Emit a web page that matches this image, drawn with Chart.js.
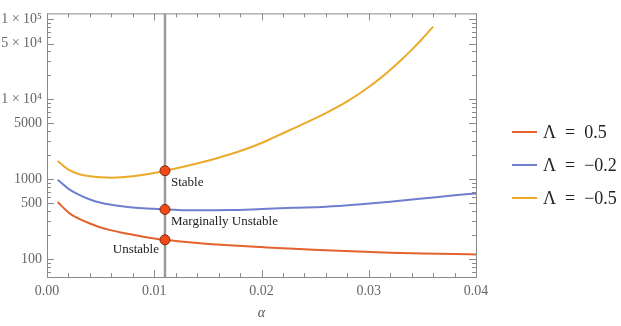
<!DOCTYPE html>
<html>
<head>
<meta charset="utf-8">
<script src="https://cdn.jsdelivr.net/npm/chart.js@4.4.1/dist/chart.umd.min.js"></script>
<style>
  html, body { margin: 0; padding: 0; background: #fff; }
  #wrap { width: 621px; height: 326px; }
</style>
</head>
<body>
<div id="wrap"><canvas id="chart"></canvas></div>
<script>
// valores
const alphaLow = [0.001, 0.002, 0.003, 0.004, 0.005, 0.006, 0.007, 0.008, 0.010, 0.011, 0.014, 0.017, 0.020, 0.023, 0.026, 0.029, 0.032, 0.035, 0.038, 0.040];
const lambda05 = [520, 385, 320, 280, 250, 230, 215, 203, 182, 175, 160, 150, 142, 135, 130, 125, 121, 118, 116, 115];
const lambdaM02 = [990, 760, 640, 560, 510, 480, 460, 445, 428, 420, 410, 412, 425, 440, 455, 485, 525, 575, 630, 665];

const alphaHigh = [0.001, 0.002, 0.003, 0.004, 0.005, 0.006, 0.007, 0.008, 0.009, 0.010, 0.011, 0.012,
  0.013, 0.014, 0.015, 0.016, 0.017, 0.018, 0.019, 0.020, 0.021, 0.022, 0.023, 0.024, 0.025, 0.026,
  0.027, 0.028, 0.029, 0.030, 0.031, 0.032, 0.033, 0.034, 0.035, 0.036];
const lambdaM05 = [1700, 1320, 1160, 1090, 1060, 1050, 1060, 1090, 1140, 1200, 1280, 1367,
  1466, 1579, 1710, 1864, 2045, 2260, 2523, 2845, 3272, 3767, 4342, 5009, 5797, 6750,
  7933, 9460, 11500, 14260, 18060, 23380, 30820, 41600, 57300, 81300];

const markerAlpha = 0.011;
const markerValues = [1280, 420, 175];
const markerLabels = ['Stable', 'Marginally Unstable', 'Unstable'];

const seriesNames = ['\u039B\u2002=\u20020.5', '\u039B\u2002=\u2002\u22120.2', '\u039B\u2002=\u2002\u22120.5'];

const xTicks = [];
for (let i = 0; i <= 20; i++) xTicks.push(+(i * 0.002).toFixed(3));
const yMajor = [100, 500, 1000, 5000, 10000, 50000, 100000];
const yMinor = [60, 70, 80, 90, 200, 300, 400, 600, 700, 800, 900, 2000, 3000, 4000, 6000, 7000, 8000, 9000,
  20000, 30000, 40000, 60000, 70000, 80000, 90000];
const yLabels = { 100: '100', 500: '500', 1000: '1000', 5000: '5000', 10000: '1 \u00D7 10\u2074', 50000: '5 \u00D7 10\u2074', 100000: '1 \u00D7 10\u2075' };

const colors = ['#E2632D', '#6F7ECF', '#EBAA2A'];
const serif = "'Liberation Serif', 'DejaVu Serif', serif";

const toXY = (xs, ys) => xs.map((x, i) => ({ x: x, y: ys[i] }));

// marco con marcas hacia dentro, como en Mathematica
const framePlugin = {
  id: 'frame',
  afterDraw(chart) {
    const ctx = chart.ctx;
    const a = chart.chartArea;
    const sx = chart.scales.x, sy = chart.scales.y;
    ctx.save();
    ctx.strokeStyle = '#8a8a8a';
    ctx.lineWidth = 1;
    ctx.strokeRect(a.left + 0.5, a.top + 0.5, a.right - a.left, a.bottom - a.top);
    ctx.beginPath();
    xTicks.forEach((v, i) => {
      const px = Math.round(sx.getPixelForValue(v)) + 0.5;
      const len = i % 5 === 0 ? 7 : 4;
      ctx.moveTo(px, a.bottom); ctx.lineTo(px, a.bottom - len);
      ctx.moveTo(px, a.top); ctx.lineTo(px, a.top + len);
    });
    yMajor.concat(yMinor).forEach(v => {
      const py = Math.round(sy.getPixelForValue(v)) + 0.5;
      const len = yMajor.includes(v) ? 7 : 4;
      ctx.moveTo(a.left, py); ctx.lineTo(a.left + len, py);
      ctx.moveTo(a.right, py); ctx.lineTo(a.right - len, py);
    });
    ctx.stroke();

    // leyenda
    ctx.font = '18px ' + serif;
    ctx.textBaseline = 'middle';
    ctx.textAlign = 'left';
    seriesNames.forEach((name, i) => {
      const y = 132 + 33 * i;
      ctx.strokeStyle = colors[i];
      ctx.lineWidth = 2;
      ctx.beginPath();
      ctx.moveTo(512, y); ctx.lineTo(537, y);
      ctx.stroke();
      ctx.fillStyle = '#222';
      ctx.fillText(name, 543, y + 1);
    });
    ctx.restore();
  }
};

// etiquetas junto a los puntos
const labelPlugin = {
  id: 'pointLabels',
  afterDatasetsDraw(chart) {
    const ctx = chart.ctx;
    const sx = chart.scales.x, sy = chart.scales.y;
    const px = sx.getPixelForValue(markerAlpha);
    ctx.save();
    ctx.font = '13px ' + serif;
    ctx.fillStyle = '#222';
    ctx.textBaseline = 'middle';
    markerValues.forEach((v, i) => {
      const py = sy.getPixelForValue(v);
      if (i < 2) {
        ctx.textAlign = 'left';
        ctx.fillText(markerLabels[i], px + 6, py + 12);
      } else {
        ctx.textAlign = 'right';
        ctx.fillText(markerLabels[i], px - 6, py + 10);
      }
    });
    ctx.restore();
  }
};

const curve = (i, xs, ys) => ({
  label: seriesNames[i],
  data: toXY(xs, ys),
  borderColor: colors[i],
  borderWidth: 2,
  pointRadius: 0,
  cubicInterpolationMode: 'monotone',
  fill: false,
  order: 3
});

new Chart(document.getElementById('chart'), {
  type: 'line',
  data: {
    datasets: [
      curve(0, alphaLow, lambda05),
      curve(1, alphaLow, lambdaM02),
      curve(2, alphaHigh, lambdaM05),
      {
        label: 'marker line',
        data: [{ x: markerAlpha, y: 60 }, { x: markerAlpha, y: 119000 }],
        borderColor: '#9a9a9a',
        borderWidth: 2.5,
        pointRadius: 0,
        order: 2
      },
      {
        label: 'points',
        data: markerValues.map(v => ({ x: markerAlpha, y: v })),
        showLine: false,
        pointRadius: 5,
        pointBackgroundColor: '#F24A17',
        pointBorderColor: '#7a2a10',
        pointBorderWidth: 1,
        order: 0
      }
    ]
  },
  options: {
    responsive: true,
    maintainAspectRatio: false,
    animation: false,
    layout: { padding: { top: 13, right: 145, left: 0, bottom: 0 } },
    plugins: {
      legend: { display: false },
      tooltip: { enabled: false }
    },
    scales: {
      x: {
        type: 'linear',
        min: 0,
        max: 0.04,
        grid: { display: false, drawTicks: false },
        border: { display: false },
        afterBuildTicks: s => { s.ticks = xTicks.map(v => ({ value: v })); },
        afterFit: s => { s.height = 49; },
        ticks: {
          autoSkip: false,
          maxRotation: 0,
          padding: 6,
          color: '#666',
          font: { family: serif, size: 14 },
          callback: (v, i) => (i % 5 === 0 ? v.toFixed(2) : '')
        },
        title: {
          display: true,
          text: '\u03B1',
          color: '#555',
          font: { family: serif, size: 14, style: 'italic' },
          padding: { top: 0, bottom: 4 }
        }
      },
      y: {
        type: 'logarithmic',
        min: 60,
        max: 119000,
        grid: { display: false, drawTicks: false },
        border: { display: false },
        afterBuildTicks: s => { s.ticks = yMajor.concat(yMinor).sort((a, b) => a - b).map(v => ({ value: v })); },
        afterFit: s => { s.width = 47; },
        ticks: {
          autoSkip: false,
          padding: 5,
          color: '#666',
          font: { family: serif, size: 14 },
          callback: v => yLabels[v] || ''
        }
      }
    }
  },
  plugins: [framePlugin, labelPlugin]
});
</script>
</body>
</html>
